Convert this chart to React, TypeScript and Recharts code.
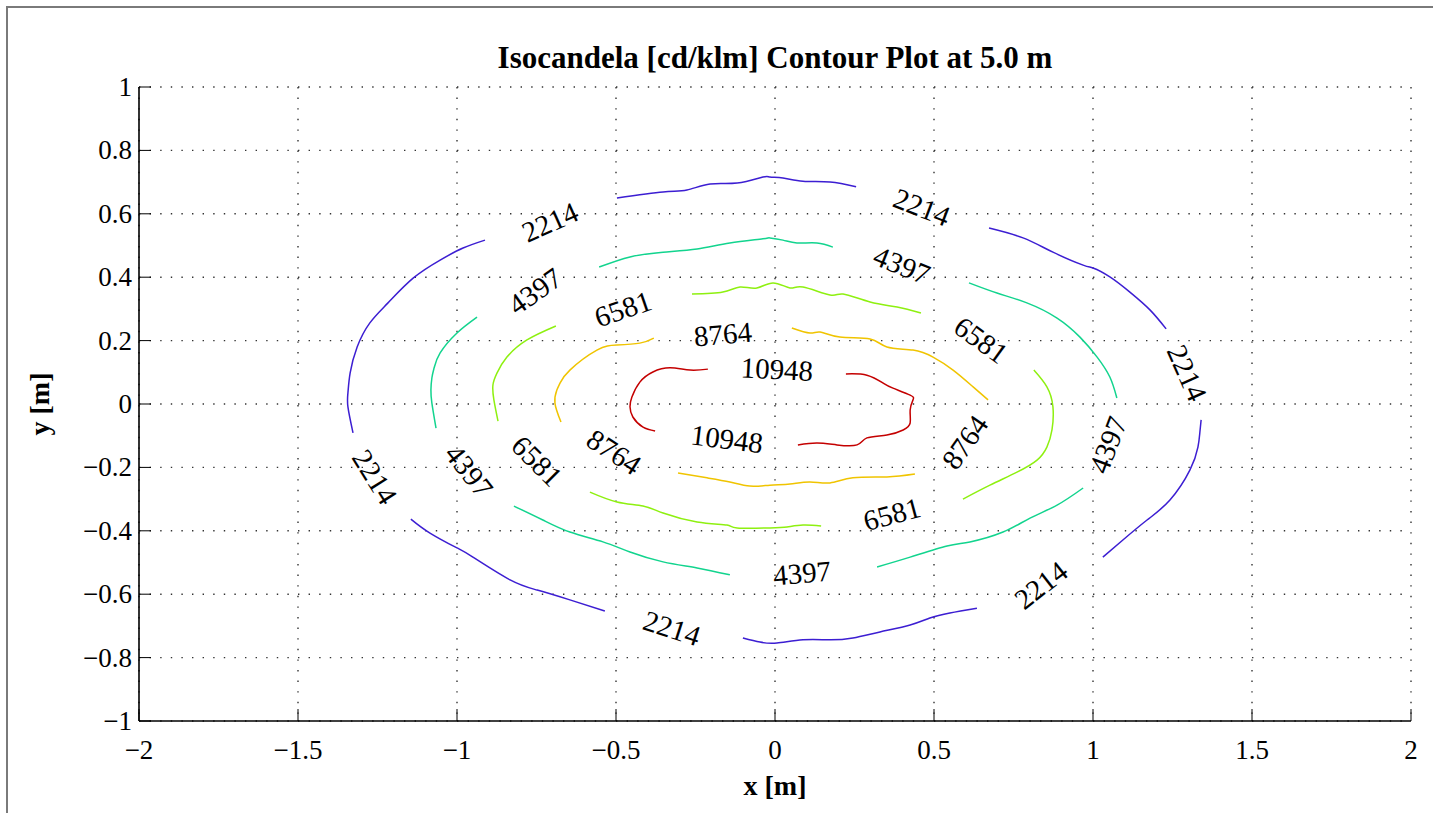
import React from 'react';
import { ScatterChart, Scatter, XAxis, YAxis, CartesianGrid } from 'recharts';

const X_TICKS = [-2, -1.5, -1, -0.5, 0, 0.5, 1, 1.5, 2];
const Y_TICKS = [-1, -0.8, -0.6, -0.4, -0.2, 0, 0.2, 0.4, 0.6, 0.8, 1];

const LEVELS = [2214, 4397, 6581, 8764, 10948];

// contour pieces, broken where the in-line labels sit
const CONTOUR_2214 = [
  [[-0.497, 0.65], [-0.352, 0.669], [-0.277, 0.675], [-0.204, 0.694], [-0.119, 0.697], [-0.038, 0.716], [-0.016, 0.716], [0.025, 0.713], [0.088, 0.703], [0.173, 0.7], [0.255, 0.685]],
  [[0.673, 0.555], [0.78, 0.524], [0.874, 0.479], [0.969, 0.438], [1.0, 0.429], [1.053, 0.401], [1.116, 0.353], [1.179, 0.297], [1.23, 0.237]],
  [[1.34, -0.05], [1.336, -0.09], [1.33, -0.136], [1.305, -0.208], [1.242, -0.303], [1.17, -0.366], [1.094, -0.429], [1.031, -0.483]],
  [[0.635, -0.644], [0.55, -0.659], [0.487, -0.675], [0.425, -0.697], [0.33, -0.719], [0.245, -0.738], [0.173, -0.744], [0.088, -0.744], [0.006, -0.754], [-0.047, -0.751], [-0.101, -0.738]],
  [[-0.535, -0.653], [-0.645, -0.618], [-0.748, -0.587], [-0.833, -0.555], [-0.95, -0.483], [-1.0, -0.454], [-1.085, -0.407], [-1.145, -0.363]],
  [[-1.327, -0.091], [-1.343, -0.009], [-1.343, 0.035], [-1.336, 0.098], [-1.314, 0.18], [-1.274, 0.256], [-1.217, 0.319], [-1.138, 0.397], [-1.053, 0.454], [-0.981, 0.492], [-0.912, 0.517]],
];

const CONTOUR_4397 = [
  [[-0.553, 0.432], [-0.456, 0.464], [-0.352, 0.479], [-0.245, 0.489], [-0.142, 0.508], [-0.038, 0.521], [-0.016, 0.524], [0.025, 0.517], [0.069, 0.508], [0.132, 0.508], [0.182, 0.495]],
  [[0.61, 0.382], [0.698, 0.35], [0.792, 0.319], [0.887, 0.271], [0.959, 0.211], [1.013, 0.148], [1.053, 0.085], [1.075, 0.019]],
  [[0.969, -0.265], [0.887, -0.319], [0.802, -0.36], [0.717, -0.404], [0.613, -0.435], [0.541, -0.448], [0.425, -0.483], [0.321, -0.514]],
  [[-0.142, -0.539], [-0.245, -0.517], [-0.352, -0.498], [-0.456, -0.467], [-0.541, -0.435], [-0.645, -0.404], [-0.73, -0.366], [-0.821, -0.322]],
  [[-1.066, -0.076], [-1.079, 0.003], [-1.082, 0.044], [-1.079, 0.082], [-1.072, 0.114], [-1.053, 0.161], [-1.0, 0.224], [-0.937, 0.274]],
];

const CONTOUR_6581 = [
  [[-0.261, 0.347], [-0.164, 0.353], [-0.11, 0.369], [-0.057, 0.366], [-0.006, 0.382], [0.047, 0.366], [0.088, 0.369], [0.173, 0.344], [0.214, 0.347], [0.299, 0.322], [0.384, 0.306], [0.459, 0.287]],
  [[0.814, 0.107], [0.855, 0.054], [0.874, -0.009], [0.871, -0.082], [0.855, -0.136], [0.824, -0.177], [0.761, -0.215], [0.676, -0.256], [0.591, -0.3]],
  [[0.145, -0.385], [0.088, -0.382], [0.038, -0.388], [-0.016, -0.391], [-0.119, -0.391], [-0.151, -0.382], [-0.245, -0.372], [-0.352, -0.344], [-0.415, -0.322], [-0.497, -0.309], [-0.582, -0.278]],
  [[-0.871, -0.054], [-0.884, 0.013], [-0.887, 0.06], [-0.874, 0.098], [-0.843, 0.148], [-0.78, 0.202], [-0.689, 0.246]],
];

const CONTOUR_8764 = [
  [[0.053, 0.24], [0.11, 0.224], [0.142, 0.227], [0.204, 0.211], [0.299, 0.205], [0.352, 0.18], [0.434, 0.17], [0.497, 0.148], [0.56, 0.107], [0.623, 0.054], [0.67, 0.013]],
  [[0.44, -0.221], [0.352, -0.23], [0.245, -0.233], [0.173, -0.249], [0.11, -0.246], [0.047, -0.252], [-0.016, -0.256], [-0.079, -0.259], [-0.142, -0.246], [-0.214, -0.233], [-0.305, -0.218]],
  [[-0.673, -0.057], [-0.692, 0.003], [-0.686, 0.044], [-0.676, 0.066], [-0.645, 0.107], [-0.56, 0.17], [-0.497, 0.186], [-0.425, 0.192], [-0.381, 0.208]],
];

const CONTOUR_10948 = [
  [[-0.211, 0.11], [-0.267, 0.107], [-0.33, 0.114], [-0.384, 0.101], [-0.425, 0.069], [-0.45, 0.022], [-0.456, -0.009], [-0.447, -0.041], [-0.415, -0.073], [-0.377, -0.085]],
  [[0.072, -0.129], [0.132, -0.123], [0.195, -0.129], [0.258, -0.129], [0.289, -0.107], [0.352, -0.098], [0.403, -0.082], [0.425, -0.06], [0.425, -0.019], [0.434, 0.013], [0.425, 0.028], [0.371, 0.05], [0.34, 0.066], [0.289, 0.091], [0.223, 0.095]],
];

// label centre [x, y] and text angle in degrees
const LABELS_2214 = [[-0.708, 0.574, -24], [0.462, 0.621, 21], [1.296, 0.098, 66], [0.836, -0.571, -38], [-0.324, -0.707, 18], [-1.258, -0.23, 58]];
const LABELS_4397 = [[0.399, 0.438, 22], [1.047, -0.129, -69], [0.085, -0.533, -5], [-0.962, -0.211, 52], [-0.755, 0.356, -35]];
const LABELS_6581 = [[0.648, 0.202, 36], [0.368, -0.347, -15], [-0.748, -0.18, 45], [-0.478, 0.3, -19]];
const LABELS_8764 = [[0.597, -0.12, -55], [-0.506, -0.151, 33], [-0.164, 0.221, -5]];
const LABELS_10948 = [[0.006, 0.11, 3], [-0.151, -0.11, 7]];

const CONTOURS = [CONTOUR_2214, CONTOUR_4397, CONTOUR_6581, CONTOUR_8764, CONTOUR_10948];
const LABELS = [LABELS_2214, LABELS_4397, LABELS_6581, LABELS_8764, LABELS_10948];
const COLORS = ['#3c1ed2', '#12d48e', '#8ef010', '#f0c400', '#c40000'];

const FONT = '"Liberation Serif", "Times New Roman", Times, serif';

const fmt = (v: number) => (v < 0 ? '\u2212' + String(Math.abs(v)) : String(v));

const BottomTick = (p: any) => (
  <g>
    <line x1={p.x} x2={p.x} y1={p.y} y2={p.y - 12} stroke="#000" strokeWidth={1} />
    <text x={p.x} y={p.y + 29} textAnchor="middle" dominantBaseline="central" fontFamily={FONT} fontSize={27} fill="#000">
      {fmt(p.payload.value)}
    </text>
  </g>
);
const TopTick = (p: any) => <line x1={p.x} x2={p.x} y1={p.y} y2={p.y + 12} stroke="#000" strokeWidth={1} />;
const LeftTick = (p: any) => (
  <g>
    <line x1={p.x} x2={p.x + 12} y1={p.y} y2={p.y} stroke="#000" strokeWidth={1} />
    <text x={p.x - 7} y={p.y} textAnchor="end" dominantBaseline="central" fontFamily={FONT} fontSize={27} fill="#000">
      {fmt(p.payload.value)}
    </text>
  </g>
);
const RightTick = (p: any) => <line x1={p.x} x2={p.x - 12} y1={p.y} y2={p.y} stroke="#000" strokeWidth={1} />;

const LabelText = (level: number) => (p: any) => (
  <text
    x={p.cx}
    y={p.cy}
    transform={`rotate(${p.payload.angle} ${p.cx} ${p.cy})`}
    textAnchor="middle"
    dominantBaseline="central"
    fontFamily={FONT}
    fontSize={29}
    fill="#000"
  >
    {level}
  </text>
);

const noDot = () => <g />;

export default function App() {
  const axisLine = { stroke: '#000', strokeWidth: 1.6 };
  return (
    <div style={{ position: 'absolute', left: 0, top: 0, width: 1433, height: 813, background: '#fff', fontFamily: FONT }}>
      <div style={{ position: 'absolute', left: 6, top: 6, width: 1427, height: 807, borderTop: '2px solid #7a7a7a', borderLeft: '2px solid #7a7a7a' }} />
      <div style={{ position: 'absolute', left: 0, width: 1550, top: 40, textAlign: 'center', fontWeight: 'bold', fontSize: 31, lineHeight: '36px' }}>
        Isocandela [cd/klm] Contour Plot at 5.0 m
      </div>
      <div style={{ position: 'absolute', left: 0, width: 1550, top: 768, textAlign: 'center', fontWeight: 'bold', fontSize: 28, lineHeight: '36px' }}>
        x [m]
      </div>
      <div style={{ position: 'absolute', left: 40, top: 404, transform: 'translate(-50%, -50%) rotate(-90deg)', fontWeight: 'bold', fontSize: 28, lineHeight: '36px', whiteSpace: 'nowrap' }}>
        y [m]
      </div>
      <ScatterChart width={1433} height={813} margin={{ top: 87, right: 22, bottom: 52, left: 79 }} style={{ position: 'absolute', left: 0, top: 0 }}>
        <CartesianGrid stroke="#333" strokeWidth={1.4} strokeDasharray="1.4 9.2" />
        <XAxis dataKey="x" type="number" domain={[-2, 2]} ticks={X_TICKS} interval={0} allowDataOverflow height={40} tickSize={0} tickMargin={0} tick={BottomTick} tickLine={false} axisLine={axisLine} />
        <XAxis xAxisId="top" orientation="top" dataKey="x" type="number" domain={[-2, 2]} ticks={X_TICKS} interval={0} height={0} tickSize={0} tickMargin={0} tick={TopTick} tickLine={false} axisLine={axisLine} />
        <YAxis dataKey="y" type="number" domain={[-1, 1]} ticks={Y_TICKS} interval={0} allowDataOverflow width={60} tickSize={0} tickMargin={0} tick={LeftTick} tickLine={false} axisLine={axisLine} />
        <YAxis yAxisId="right" orientation="right" dataKey="y" type="number" domain={[-1, 1]} ticks={Y_TICKS} interval={0} width={0} tickSize={0} tickMargin={0} tick={RightTick} tickLine={false} axisLine={axisLine} />
        {CONTOURS.map((segs, li) =>
          segs.map((seg, si) => (
            <Scatter
              key={`c${li}-${si}`}
              data={seg.map(([x, y]) => ({ x, y }))}
              line={{ stroke: COLORS[li], strokeWidth: 1.5, strokeLinejoin: 'round' }}
              lineJointType="natural"
              shape={noDot}
              isAnimationActive={false}
            />
          ))
        )}
        {LABELS.map((labs, li) => (
          <Scatter
            key={`l${li}`}
            data={labs.map(([x, y, angle]) => ({ x, y, angle }))}
            shape={LabelText(LEVELS[li])}
            isAnimationActive={false}
          />
        ))}
      </ScatterChart>
    </div>
  );
}
